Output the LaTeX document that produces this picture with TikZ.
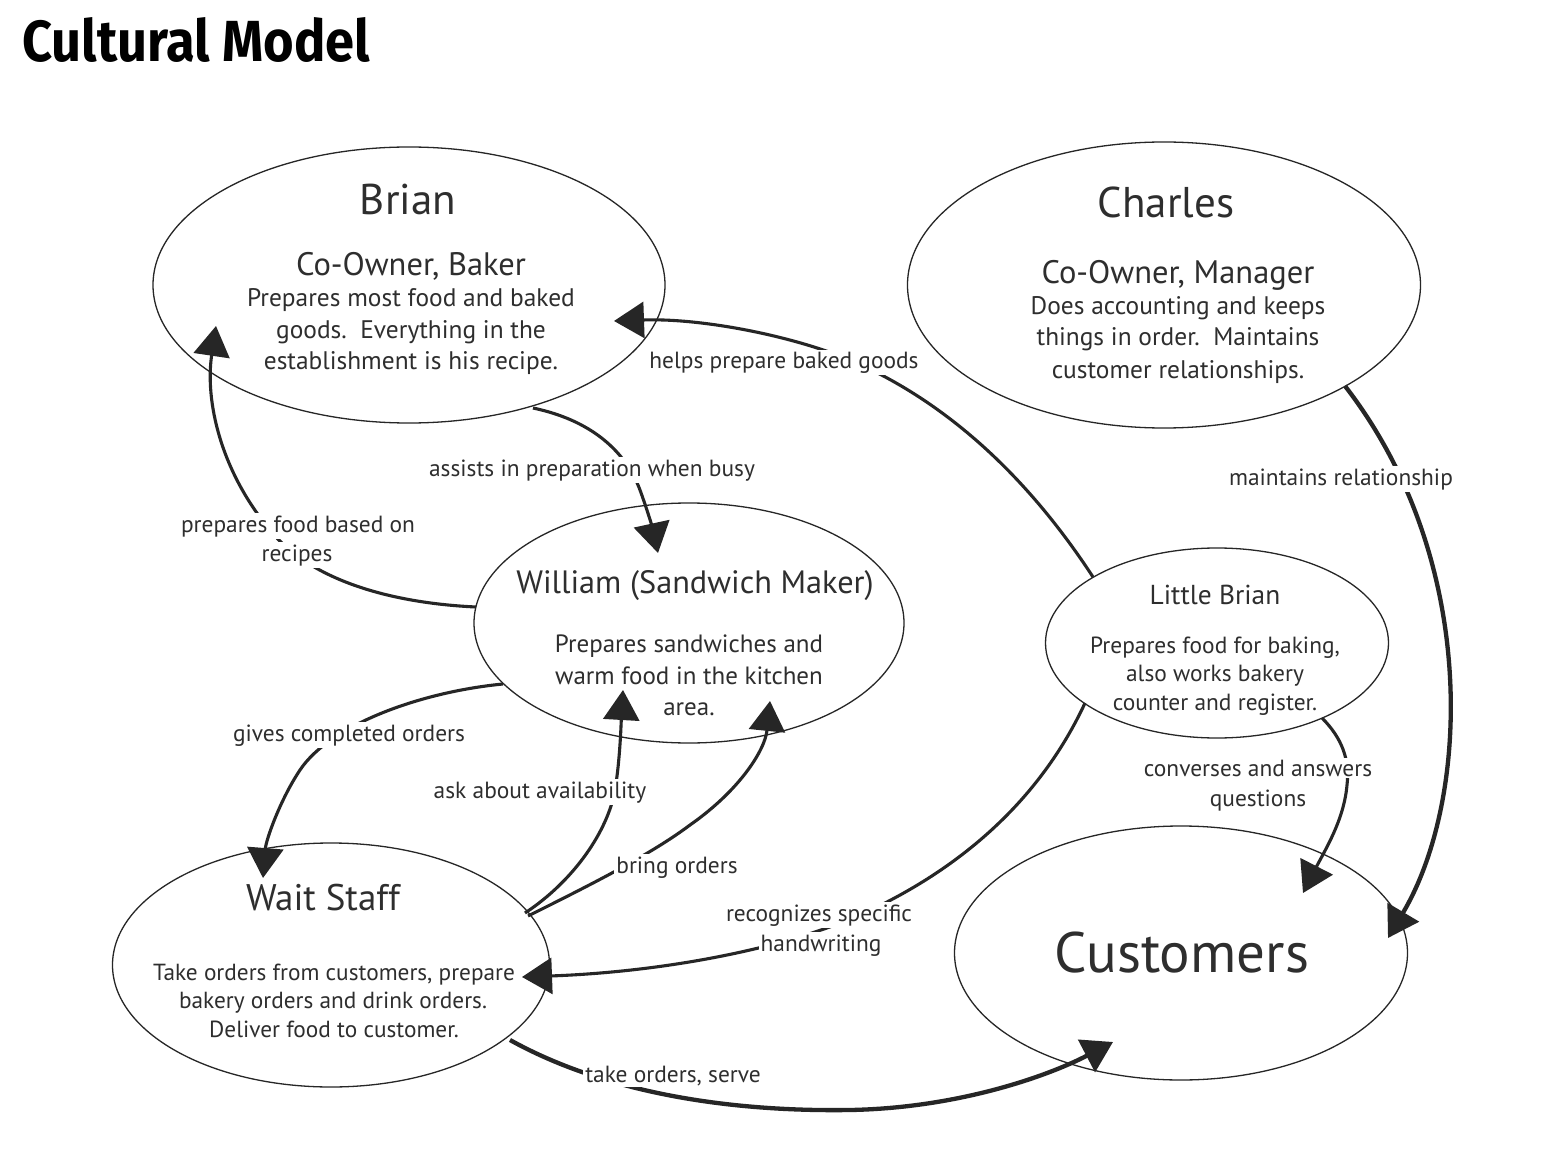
\documentclass[tikz,border=0pt]{standalone}
\usepackage{graphicx}
\usepackage{fontspec}
\setmainfont{PT Sans}
\newfontfamily\titlefont{Fira Sans}
\usetikzlibrary{shapes.geometric,arrows.meta,calc}
\definecolor{ink}{HTML}{262626}
\definecolor{txt}{HTML}{2E2E2E}
\begin{document}
\begin{tikzpicture}[x=1pt,y=-1pt,
  ell/.style={draw=ink, line width=1.3pt, ellipse, inner sep=0pt},
  conn/.style={draw=ink, line width=3.1pt, -{Triangle[length=30pt,width=36pt]}},
  heavyconn/.style={conn, line width=4.3pt},
  lbl/.style={fill=white, inner sep=2pt, text=txt, anchor=base, font=\fontsize{23.4}{28}\selectfont},
  ttl/.style={text=txt, inner sep=0pt, anchor=base},
  body/.style={text=txt, inner sep=0pt, anchor=base}
]
\useasboundingbox[fill=white] (0,0) rectangle (1564,1166);

\node[anchor=base west, inner sep=0pt] (title) at (22,62) {\resizebox{348pt}{44pt}{\titlefont\bfseries Cultural Model}};

% ellipses
\node[ell, minimum width=512pt, minimum height=276pt] (brian) at (409,285) {};
\node[ell, minimum width=513pt, minimum height=286pt] (charles) at (1164,285) {};
\node[ell, minimum width=430pt, minimum height=240pt] (william) at (689,623) {};
\node[ell, minimum width=343pt, minimum height=190pt] (lb) at (1217,643) {};
\node[ell, minimum width=437pt, minimum height=244pt] (wait) at (331,965) {};
\node[ell, minimum width=453pt, minimum height=254pt] (cust) at (1181,953) {};

% connectors
\draw[conn] ($(lb)+(-124,-66)$) .. controls (1010,450) and (920,390) .. (850,360) .. controls (790,335) and (700,318) .. ($(brian)+(205,36)$);
\draw[conn] ($(brian)+(124,123)$) .. controls (590,420) and (625,450) .. (640,490) .. controls (648,512) and (653,530) .. ($(william)+(-31,-70)$);
\draw[conn] ($(william)+(-213,-16)$) .. controls (390,603) and (310,580) .. (270,530) .. controls (220,470) and (205,400) .. ($(brian)+(-193,41)$);
\draw[heavyconn] ($(charles)+(181,101)$) .. controls (1480,560) and (1470,800) .. ($(cust)+(207,-15)$);
\draw[conn] ($(lb)+(105,75)$) .. controls (1342,738) and (1350,760) .. (1347,785) .. controls (1344,820) and (1325,850) .. ($(cust)+(122,-60)$);
\draw[conn] ($(william)+(-186,61)$) .. controls (420,692) and (330,725) .. (300,770) .. controls (280,800) and (266,840) .. ($(wait)+(-68,-87)$);
\draw[conn] ($(wait)+(194,-52)$) .. controls (575,880) and (608,830) .. (615,790) .. controls (620,760) and (621,725) .. ($(william)+(-66,67)$);
\draw[conn] ($(wait)+(197,-49)$) .. controls (590,885) and (650,855) .. (690,825) .. controls (740,790) and (765,750) .. ($(william)+(81,78)$);
\draw[conn] ($(lb)+(-132,60)$) .. controls (1040,800) and (960,870) .. (860,915) .. controls (780,950) and (660,972) .. ($(wait)+(191,12)$);
\draw[heavyconn] ($(wait)+(179,75)$) .. controls (600,1090) and (720,1112) .. (850,1110) .. controls (960,1108) and (1050,1075) .. ($(cust)+(-68,89)$);

% connector labels
\node[lbl] (l1) at (784,368) {helps prepare baked goods};
\node[lbl] (l2) at (592,476) {assists in preparation when busy};
\node[lbl] (l3a) at (298,532) {prepares food based on};
\node[lbl] (l3b) at (297,561) {recipes};
\node[lbl] (l4) at (1341,485) {maintains relationship};
\node[lbl] (l5a) at (1258,776) {converses and answers};
\node[lbl] (l5b) at (1258,806) {questions};
\node[lbl] (l6) at (349,741) {gives completed orders};
\node[lbl] (l7) at (540,798) {ask about availability};
\node[lbl] (l8) at (677,873) {bring orders};
\node[lbl] (l9a) at (819,921) {recognizes specific};
\node[lbl] (l9b) at (821,951) {handwriting};
\node[lbl] (l10) at (673,1082) {take orders, serve};

% Brian text
\node[ttl, font=\fontsize{43}{50}\selectfont] (bt) at (408,215) {Brian};
\node[ttl, font=\fontsize{32.5}{36}\selectfont] (bs) at (411,276) {Co-Owner, Baker};
\node[body, font=\fontsize{25.4}{30}\selectfont] (b1) at (411,307) {Prepares most food and baked};
\node[body, font=\fontsize{25.4}{30}\selectfont] (b2) at (411,338) {goods.\ \ Everything in the};
\node[body, font=\fontsize{25.4}{30}\selectfont] (b3) at (411,370) {establishment is his recipe.};

% Charles text
\node[ttl, font=\fontsize{43}{50}\selectfont] (ct) at (1166,218) {Charles};
\node[ttl, font=\fontsize{32.5}{36}\selectfont] (cs) at (1178,284) {Co-Owner, Manager};
\node[body, font=\fontsize{25.4}{30}\selectfont] (c1) at (1178,315) {Does accounting and keeps};
\node[body, font=\fontsize{25.4}{30}\selectfont] (c2) at (1178,346) {things in order.\ \ Maintains};
\node[body, font=\fontsize{25.4}{30}\selectfont] (c3) at (1178,378) {customer relationships.};

% William text
\node[ttl, font=\fontsize{32.3}{36}\selectfont] (wt) at (695,593) {William (Sandwich Maker)};
\node[body, font=\fontsize{25}{30}\selectfont] (w1) at (689,652) {Prepares sandwiches and};
\node[body, font=\fontsize{25}{30}\selectfont] (w2) at (689,684) {warm food in the kitchen};
\node[body, font=\fontsize{25}{30}\selectfont] (w3) at (689,715) {area.};

% Little Brian text
\node[ttl, font=\fontsize{27.4}{32}\selectfont] (lt) at (1215,604) {Little Brian};
\node[body, font=\fontsize{23.4}{28}\selectfont] (lb1) at (1215,653) {Prepares food for baking,};
\node[body, font=\fontsize{23.4}{28}\selectfont] (lb2) at (1215,681.5) {also works bakery};
\node[body, font=\fontsize{23.4}{28}\selectfont] (lb3) at (1215,710) {counter and register.};

% Wait Staff text
\node[ttl, font=\fontsize{37}{42}\selectfont] (wst) at (323,910) {Wait Staff};
\node[body, font=\fontsize{23.3}{28}\selectfont] (ws1) at (334,980) {Take orders from customers, prepare};
\node[body, font=\fontsize{23.3}{28}\selectfont] (ws2) at (333,1008.5) {bakery orders and drink orders.};
\node[body, font=\fontsize{23.3}{28}\selectfont] (ws3) at (334,1037) {Deliver food to customer.};

% Customers text
\node[ttl, font=\fontsize{57}{64}\selectfont] (cu) at (1182,972) {Customers};
\end{tikzpicture}
\end{document}
